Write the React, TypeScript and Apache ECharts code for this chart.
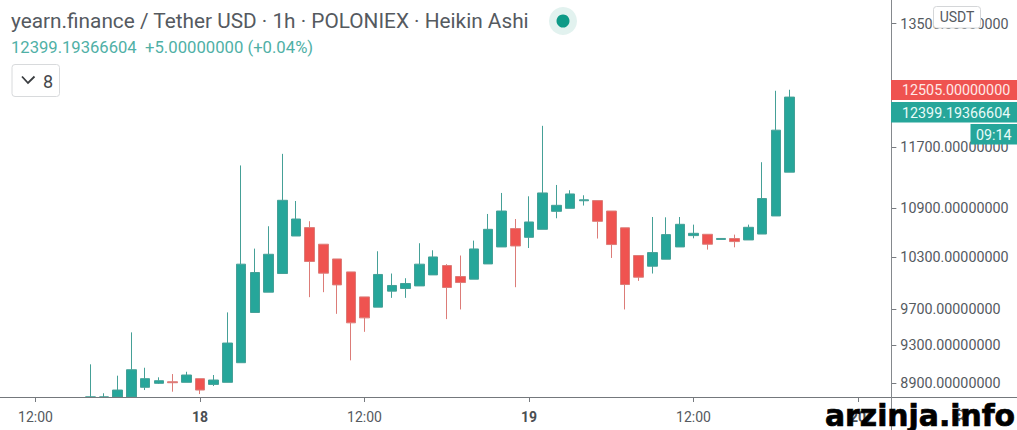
import React, { useEffect, useRef } from "react";
import * as echarts from "echarts";

const categories = [
  "10:00","11:00","12:00","13:00","14:00","15:00","16:00","17:00","18:00","19:00","20:00","21:00","22:00","23:00",
  "18","01:00","02:00","03:00","04:00","05:00","06:00","07:00","08:00","09:00","10:00","11:00","12:00","13:00","14:00","15:00","16:00","17:00","18:00","19:00","20:00","21:00","22:00","23:00",
  "19","01:00","02:00","03:00","04:00","05:00","06:00","07:00","08:00","09:00","10:00","11:00","12:00","13:00","14:00","15:00","16:00","17:00","18:00","19:00","20:00","21:00","22:00","23:00",
  "20","01:00","02:00",
];
const leadingEmpty = 6;
const opens = [8760,8760,8760,8760,8859,8900,8916,8910,8948,8889,8910,9115,9661,9891,10107,10556,10659,10456,10279,10126,9837,9721,9903,9933,9963,10091,10201,10072,10041,10220,10423,10647,10540,10638,10862,10900,10996,10998,10866,10657,10320,10193,10276,10423,10561,10577,10514,10525,10508,10580,10804,11366];
const closes = [8761,8761,8831,9041,8948,8927,8906,8986,8831,8934,9325,10217,10119,10335,11002,10766,10249,10111,9975,9546,9601,10096,9968,9991,10217,10303,9945,10002,10399,10638,10866,10435,10729,11096,10938,11083,11008,10737,10452,9979,10064,10355,10573,10700,10589,10456,10526,10488,10663,11024,11933,12399];
const lows = [8760,8760,8760,8760,8831,8893,8814,8910,8790,8872,8910,9115,9661,9891,10107,10556,9834,9891,9646,9140,9447,9721,9826,9826,9963,10091,9587,9695,10041,10220,10423,9948,10410,10638,10775,10900,10935,10525,10291,9695,10021,10107,10276,10423,10528,10391,10514,10419,10508,10580,10804,11366];
const highs = [9098,8798,8979,9441,9062,8962,8996,9020,8948,8986,9662,11455,10403,10676,11610,10993,10738,10456,10279,10126,9837,10371,10107,10052,10468,10383,10217,10320,10500,10829,11096,10766,11053,11993,11199,11131,11066,10998,10866,10657,10320,10791,10787,10791,10696,10577,10526,10573,10696,11498,12490,12505];
const priceTicks = [8900, 9300, 9700, 10300, 10900, 11700, 13500];

const UP = "#26a69a";
const DOWN = "#ef5350";
const FONT = "Roboto, sans-serif";
const TEXT = "#555a5f";

function showTime(_: number, value: string) {
  return value === "12:00" || value.length === 2;
}

export default function App() {
  const ref = useRef<HTMLDivElement>(null);
  useEffect(() => {
    document.body.style.margin = "0";
    const chart = echarts.init(ref.current!, undefined, { renderer: "svg" });
    const candles: any[] = categories.map(() => ["-", "-", "-", "-"]);
    opens.forEach((o, i) => {
      candles[i + leadingEmpty] = [o, closes[i], lows[i], highs[i]];
    });
    const label = (x: number, y: number, text: string, fill: string, font: string, align = "left") => ({
      type: "text", x, y, z: 100,
      style: { text, fill, font, align, verticalAlign: "middle" },
    });
    chart.setOption({
      animation: false,
      backgroundColor: "#ffffff",
      grid: { left: 1.2, width: 891.15, top: 0, bottom: 33 },
      xAxis: {
        type: "category",
        data: categories,
        boundaryGap: true,
        axisLine: { show: false },
        axisTick: { show: true, alignWithLabel: true, interval: showTime, length: 5, lineStyle: { color: "#777b80" } },
        axisLabel: {
          interval: showTime,
          margin: 13,
          hideOverlap: false,
          fontFamily: FONT,
          fontSize: 14,
          color: TEXT,
          formatter: (v: string) => (v.length === 2 ? `{day|${v}}` : v),
          rich: { day: { fontFamily: FONT, fontSize: 14, fontWeight: "bold", color: "#4a4e52" } },
        },
        splitLine: { show: false },
      },
      yAxis: {
        type: "log",
        logBase: 10,
        position: "right",
        min: 8760,
        max: 13875,
        offset: -1,
        axisLine: { show: false },
        axisTick: {
          show: true, length: 5, lineStyle: { color: "#777b80" },
          customValues: priceTicks,
        },
        axisLabel: {
          show: true,
          margin: 9,
          fontFamily: FONT,
          fontSize: 14.3,
          color: TEXT,
          customValues: priceTicks,
          formatter: (v: number) => v.toFixed(8),
        },
        splitLine: { show: false },
      },
      series: [
        {
          type: "candlestick",
          data: candles,
          barWidth: 10,
          itemStyle: {
            color: UP, color0: DOWN, borderColor: "#45a097", borderColor0: "#dc7c78", borderWidth: 1,
          },
        },
      ],
      graphic: [
        { type: "line", z: 50, shape: { x1: 0, y1: 397.5, x2: 1017, y2: 397.5 }, style: { stroke: "#74787c", lineWidth: 1 } },
        { type: "line", z: 50, shape: { x1: 891.5, y1: 0, x2: 891.5, y2: 430 }, style: { stroke: "#85898d", lineWidth: 1 } },
        label(11, 21, "yearn.finance / Tether USD · 1h · POLONIEX · Heikin Ashi", TEXT, `20.8px ${FONT}`),
        label(11, 47.5, "12399.19366604", "#4fb0a6", `16.6px ${FONT}`),
        label(145, 47.5, "+5.00000000 (+0.04%)", "#4fb0a6", `16.7px ${FONT}`),
        { type: "circle", z: 100, shape: { cx: 563, cy: 21, r: 14 }, style: { fill: "#e2f2ef" } },
        { type: "circle", z: 101, shape: { cx: 563, cy: 21, r: 6.5 }, style: { fill: "#0e9a87" } },
        { type: "rect", z: 100, shape: { x: 12, y: 64.5, width: 47.5, height: 32, r: 3 }, style: { fill: "#fff", stroke: "#d8dadc", lineWidth: 1 } },
        { type: "polyline", z: 101, shape: { points: [[22, 76.5], [28, 83], [34.5, 76.5]] }, style: { fill: "none", stroke: "#3a3d40", lineWidth: 1.8 } },
        label(43, 81, "8", "#45484c", `18px ${FONT}`),
        { type: "rect", z: 100, shape: { x: 933.5, y: 6.5, width: 47, height: 21.5, r: 3 }, style: { fill: "#fff", stroke: "#d4d6d8", lineWidth: 1 } },
        label(957, 17, "USDT", TEXT, `14px ${FONT}`, "center"),
        { type: "rect", z: 100, shape: { x: 891, y: 80, width: 126, height: 20 }, style: { fill: DOWN } },
        label(902, 90, "12505.00000000", "#ffe9e6", `14.3px ${FONT}`),
        { type: "rect", z: 100, shape: { x: 891, y: 102, width: 126, height: 20.5 }, style: { fill: UP } },
        label(902, 112.5, "12399.19366604", "#e8fbf8", `14.3px ${FONT}`),
        { type: "rect", z: 100, shape: { x: 970.5, y: 124, width: 46.5, height: 20.5 }, style: { fill: UP } },
        label(976, 134.5, "09:14", "#e8fbf8", `14.3px ${FONT}`),
        label(959, 414, "⚙", "#555", `18px 'DejaVu Sans'`, "center"),
        { type: "text", x: 825, y: 415, z: 110, style: { text: "arzinja.info", fill: "#000", stroke: "#000", lineWidth: 0.7, font: "900 29.8px 'DejaVu Sans'", align: "left", verticalAlign: "middle" } },
      ],
    });
    return () => chart.dispose();
  }, []);
  return <div ref={ref} style={{ width: 1017, height: 430 }} />;
}
